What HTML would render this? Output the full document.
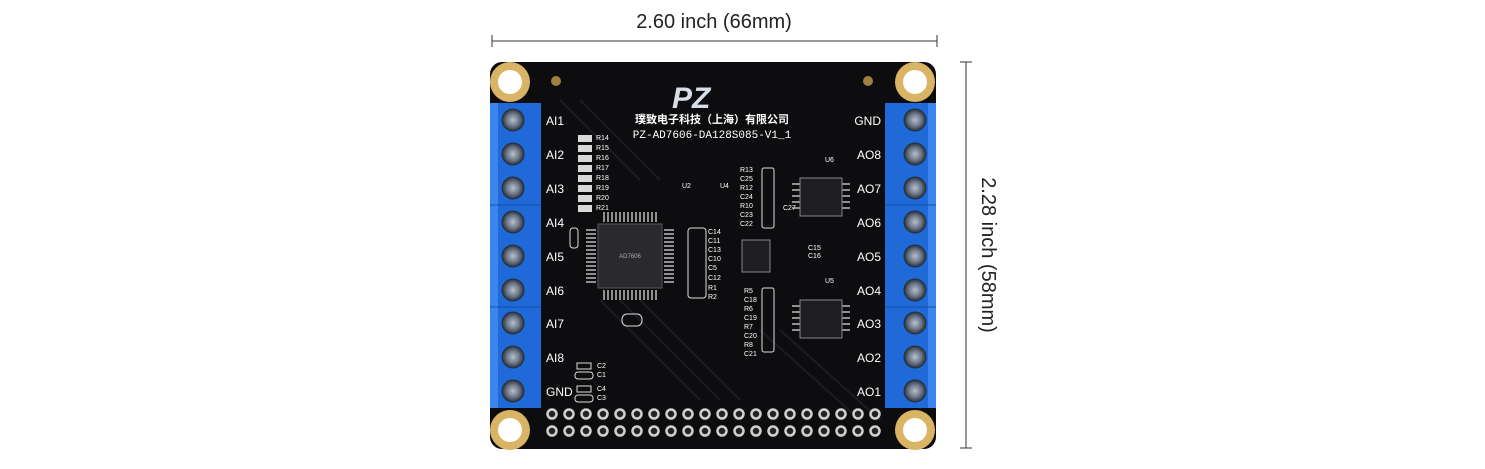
<!DOCTYPE html>
<html><head><meta charset="utf-8"><style>
body{margin:0;background:#fff;width:1485px;height:464px;overflow:hidden;font-family:"Liberation Sans","Noto Sans CJK SC",sans-serif}
</style></head><body>
<svg width="1485" height="464" viewBox="0 0 1485 464" xmlns="http://www.w3.org/2000/svg" font-family="Liberation Sans, Noto Sans CJK SC, sans-serif">
<defs>
<radialGradient id="scr" cx="50%" cy="50%" r="50%"><stop offset="0" stop-color="#b8c0cc"/><stop offset="0.6" stop-color="#6a7484"/><stop offset="1" stop-color="#2a3040"/></radialGradient>
</defs>
<text x="714" y="28" font-size="20" text-anchor="middle" fill="#222">2.60 inch (66mm)</text>
<line x1="492" y1="41" x2="937" y2="41" stroke="#333" stroke-width="1"/>
<line x1="492" y1="35" x2="492" y2="47" stroke="#333"/>
<line x1="937" y1="35" x2="937" y2="47" stroke="#333"/>
<line x1="966" y1="62" x2="966" y2="448" stroke="#333"/>
<line x1="960" y1="62" x2="972" y2="62" stroke="#333"/>
<line x1="960" y1="448" x2="972" y2="448" stroke="#333"/>
<text transform="translate(982,255) rotate(90)" font-size="20" text-anchor="middle" fill="#222">2.28 inch (58mm)</text>
<rect x="490" y="62" width="446" height="387" rx="12" fill="#0d0d0f"/>
<g stroke="#1c1c20" stroke-width="2" fill="none">
<path d="M600 300 L700 400 M620 300 L720 400 M640 300 L740 400 M760 330 L860 420 M780 330 L880 420 M560 100 L640 180 M580 100 L660 180"/>
</g>
<g>
<circle cx="510" cy="82" r="20" fill="#d9b464"/><circle cx="510" cy="82" r="12" fill="#fff"/>
<circle cx="915" cy="82" r="20" fill="#d9b464"/><circle cx="915" cy="82" r="12" fill="#fff"/>
<circle cx="510" cy="430" r="20" fill="#d9b464"/><circle cx="510" cy="430" r="12" fill="#fff"/>
<circle cx="915" cy="430" r="20" fill="#d9b464"/><circle cx="915" cy="430" r="12" fill="#fff"/>
<circle cx="556" cy="81" r="5" fill="#a08040"/><circle cx="868" cy="81" r="5" fill="#a08040"/>
</g>
<rect x="490" y="103" width="51" height="305" fill="#1f6ad8"/>
<rect x="885" y="103" width="51" height="305" fill="#1f6ad8"/>
<rect x="490" y="103" width="8" height="305" fill="#3a86ee"/>
<rect x="928" y="103" width="8" height="305" fill="#3a86ee"/>
<line x1="490" y1="205" x2="541" y2="205" stroke="#1550a8"/><line x1="490" y1="307" x2="541" y2="307" stroke="#1550a8"/>
<line x1="885" y1="205" x2="936" y2="205" stroke="#1550a8"/><line x1="885" y1="307" x2="936" y2="307" stroke="#1550a8"/>
<g fill="url(#scr)" stroke="#25303c" stroke-width="1">
<circle cx="513" cy="120" r="11"/><circle cx="513" cy="154" r="11"/><circle cx="513" cy="188" r="11"/><circle cx="513" cy="222" r="11"/><circle cx="513" cy="256" r="11"/><circle cx="513" cy="290" r="11"/><circle cx="513" cy="323" r="11"/><circle cx="513" cy="357" r="11"/><circle cx="513" cy="391" r="11"/>
<circle cx="915" cy="120" r="11"/><circle cx="915" cy="154" r="11"/><circle cx="915" cy="188" r="11"/><circle cx="915" cy="222" r="11"/><circle cx="915" cy="256" r="11"/><circle cx="915" cy="290" r="11"/><circle cx="915" cy="323" r="11"/><circle cx="915" cy="357" r="11"/><circle cx="915" cy="391" r="11"/>
</g>
<g fill="#fff" font-size="12">
<text x="546" y="125">AI1</text><text x="546" y="159">AI2</text><text x="546" y="193">AI3</text><text x="546" y="227">AI4</text><text x="546" y="261">AI5</text><text x="546" y="295">AI6</text><text x="546" y="328">AI7</text><text x="546" y="362">AI8</text><text x="546" y="396">GND</text>
<g text-anchor="end"><text x="881" y="125">GND</text><text x="881" y="159">AO8</text><text x="881" y="193">AO7</text><text x="881" y="227">AO6</text><text x="881" y="261">AO5</text><text x="881" y="295">AO4</text><text x="881" y="328">AO3</text><text x="881" y="362">AO2</text><text x="881" y="396">AO1</text></g>
<text x="712" y="123" font-size="11" font-weight="bold" text-anchor="middle">璞致电子科技（上海）有限公司</text>
<text x="712" y="138" font-size="11" text-anchor="middle" font-family="Liberation Mono, monospace">PZ-AD7606-DA128S085-V1_1</text>
<text x="672" y="108" font-size="30" font-weight="bold" font-style="italic" fill="#d8dde8">PZ</text>
<g font-size="7"><text x="596" y="140">R14</text><text x="596" y="150">R15</text><text x="596" y="160">R16</text><text x="596" y="170">R17</text><text x="596" y="180">R18</text><text x="596" y="190">R19</text><text x="596" y="200">R20</text><text x="596" y="210">R21</text>
<text x="740" y="172">R13</text><text x="740" y="181">C25</text><text x="740" y="190">R12</text><text x="740" y="199">C24</text><text x="740" y="208">R10</text><text x="740" y="217">C23</text><text x="740" y="226">C22</text>
<text x="708" y="234">C14</text><text x="708" y="243">C11</text><text x="708" y="252">C13</text><text x="708" y="261">C10</text><text x="708" y="270">C5</text><text x="708" y="280">C12</text><text x="708" y="290">R1</text><text x="708" y="299">R2</text>
<text x="744" y="293">R5</text><text x="744" y="302">C18</text><text x="744" y="311">R6</text><text x="744" y="320">C19</text><text x="744" y="329">R7</text><text x="744" y="338">C20</text><text x="744" y="347">R8</text><text x="744" y="356">C21</text>
<text x="597" y="368">C2</text><text x="597" y="377">C1</text><text x="597" y="391">C4</text><text x="597" y="400">C3</text>
<text x="825" y="162">U6</text><text x="825" y="283">U5</text><text x="783" y="210">C27</text><text x="808" y="250">C15</text><text x="808" y="258">C16</text><text x="682" y="188">U2</text><text x="720" y="188">U4</text></g>
</g>
<rect x="598" y="224" width="64" height="64" fill="#2a2a2e" stroke="#555"/>
<g stroke="#bbb" stroke-width="1.5">
<path d="M604 212 V222 M608 212 V222 M612 212 V222 M616 212 V222 M620 212 V222 M624 212 V222 M628 212 V222 M632 212 V222 M636 212 V222 M640 212 V222 M644 212 V222 M648 212 V222 M652 212 V222 M656 212 V222"/>
<path d="M604 290 V300 M608 290 V300 M612 290 V300 M616 290 V300 M620 290 V300 M624 290 V300 M628 290 V300 M632 290 V300 M636 290 V300 M640 290 V300 M644 290 V300 M648 290 V300 M652 290 V300 M656 290 V300"/>
<path d="M586 230 H596 M586 234 H596 M586 238 H596 M586 242 H596 M586 246 H596 M586 250 H596 M586 254 H596 M586 258 H596 M586 262 H596 M586 266 H596 M586 270 H596 M586 274 H596 M586 278 H596 M586 282 H596"/>
<path d="M664 230 H674 M664 234 H674 M664 238 H674 M664 242 H674 M664 246 H674 M664 250 H674 M664 254 H674 M664 258 H674 M664 262 H674 M664 266 H674 M664 270 H674 M664 274 H674 M664 278 H674 M664 282 H674"/>
<path d="M792 184 H800 M792 190 H800 M792 196 H800 M792 202 H800 M792 208 H800 M842 184 H850 M842 190 H850 M842 196 H850 M842 202 H850 M842 208 H850"/>
<path d="M792 306 H800 M792 312 H800 M792 318 H800 M792 324 H800 M792 330 H800 M842 306 H850 M842 312 H850 M842 318 H850 M842 324 H850 M842 330 H850"/>
</g>
<text x="630" y="258" font-size="6" fill="#aaa" text-anchor="middle">AD7606</text>
<rect x="800" y="178" width="42" height="38" fill="#1e1e22" stroke="#888"/>
<rect x="800" y="300" width="42" height="38" fill="#1e1e22" stroke="#888"/>
<rect x="742" y="240" width="28" height="32" fill="#1e1e22" stroke="#888"/>
<g fill="#d9d9d9">
<rect x="578" y="135" width="14" height="7"/><rect x="578" y="145" width="14" height="7"/><rect x="578" y="155" width="14" height="7"/><rect x="578" y="165" width="14" height="7"/><rect x="578" y="175" width="14" height="7"/><rect x="578" y="185" width="14" height="7"/><rect x="578" y="195" width="14" height="7"/><rect x="578" y="205" width="14" height="7"/>
<rect x="762" y="168" width="12" height="60" rx="2" fill="none" stroke="#ddd"/>
<rect x="762" y="288" width="12" height="64" rx="2" fill="none" stroke="#ddd"/>
<rect x="688" y="228" width="18" height="70" rx="3" fill="none" stroke="#ddd"/>
<rect x="577" y="363" width="14" height="6" fill="none" stroke="#ddd"/><rect x="575" y="372" width="18" height="7" rx="3" fill="none" stroke="#ddd"/>
<rect x="577" y="386" width="14" height="6" fill="none" stroke="#ddd"/><rect x="575" y="395" width="18" height="7" rx="3" fill="none" stroke="#ddd"/>
<rect x="622" y="314" width="20" height="12" rx="5" fill="none" stroke="#ddd"/>
<rect x="570" y="228" width="8" height="20" rx="3" fill="none" stroke="#ddd"/>
</g>
<g fill="#222" stroke="#d0d0d0" stroke-width="2.5">
<circle cx="552" cy="414" r="4.5"/><circle cx="569" cy="414" r="4.5"/><circle cx="586" cy="414" r="4.5"/><circle cx="603" cy="414" r="4.5"/><circle cx="620" cy="414" r="4.5"/><circle cx="637" cy="414" r="4.5"/><circle cx="654" cy="414" r="4.5"/><circle cx="671" cy="414" r="4.5"/><circle cx="688" cy="414" r="4.5"/><circle cx="705" cy="414" r="4.5"/><circle cx="722" cy="414" r="4.5"/><circle cx="739" cy="414" r="4.5"/><circle cx="756" cy="414" r="4.5"/><circle cx="773" cy="414" r="4.5"/><circle cx="790" cy="414" r="4.5"/><circle cx="807" cy="414" r="4.5"/><circle cx="824" cy="414" r="4.5"/><circle cx="841" cy="414" r="4.5"/><circle cx="858" cy="414" r="4.5"/><circle cx="875" cy="414" r="4.5"/>
<circle cx="552" cy="431" r="4.5"/><circle cx="569" cy="431" r="4.5"/><circle cx="586" cy="431" r="4.5"/><circle cx="603" cy="431" r="4.5"/><circle cx="620" cy="431" r="4.5"/><circle cx="637" cy="431" r="4.5"/><circle cx="654" cy="431" r="4.5"/><circle cx="671" cy="431" r="4.5"/><circle cx="688" cy="431" r="4.5"/><circle cx="705" cy="431" r="4.5"/><circle cx="722" cy="431" r="4.5"/><circle cx="739" cy="431" r="4.5"/><circle cx="756" cy="431" r="4.5"/><circle cx="773" cy="431" r="4.5"/><circle cx="790" cy="431" r="4.5"/><circle cx="807" cy="431" r="4.5"/><circle cx="824" cy="431" r="4.5"/><circle cx="841" cy="431" r="4.5"/><circle cx="858" cy="431" r="4.5"/><circle cx="875" cy="431" r="4.5"/>
</g>
</svg>
</body></html>
